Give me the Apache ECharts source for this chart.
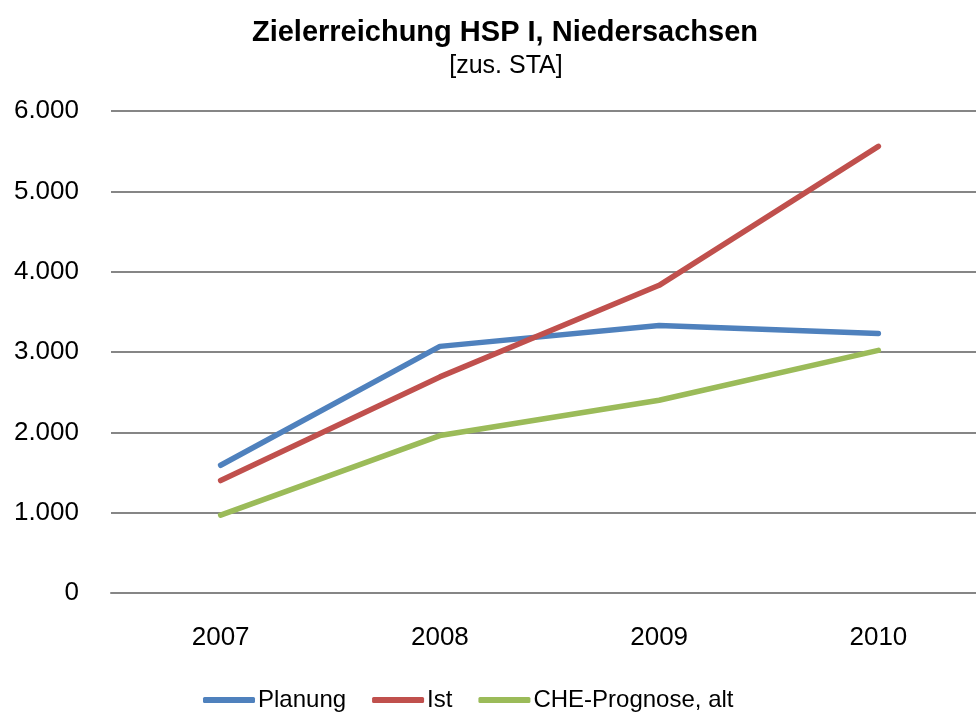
<!DOCTYPE html>
<html>
<head>
<meta charset="utf-8">
<script src="https://cdn.jsdelivr.net/npm/echarts@6/dist/echarts.min.js"></script>
<style>
  html, body { margin: 0; padding: 0; background: #fff; }
  #chart { width: 976px; height: 713px; }
</style>
</head>
<body>
<div id="chart"></div>
<script>
// Jahre und Werte (zusätzliche Studienanfänger, Niedersachsen)
var years = ['2007', '2008', '2009', '2010'];
var planung = [1590, 3070, 3330, 3230];
var ist = [1400, 2690, 3830, 5560];
var cheAlt = [970, 1960, 2400, 3020];
var yTicks = { min: 0, max: 6000, interval: 1000 };

var FONT = 'Liberation Sans, Arial, sans-serif';

function fmtThousands(v) {
  return String(v).replace(/\B(?=(\d{3})+(?!\d))/g, '.');
}

var chart = echarts.init(document.getElementById('chart'), null, { renderer: 'canvas' });

function lineSeries(name, data, color) {
  return {
    name: name,
    type: 'line',
    data: data,
    symbol: 'none',
    smooth: false,
    lineStyle: { color: color, width: 5.5, cap: 'round', join: 'round' },
    itemStyle: { color: color },
    emphasis: { disabled: true }
  };
}

chart.setOption({
  animation: false,
  backgroundColor: '#ffffff',
  title: [
    {
      text: 'Zielerreichung HSP I, Niedersachsen',
      left: 500, top: 13, textAlign: 'center',
      textStyle: { fontFamily: FONT, fontSize: 29, fontWeight: 'bold', color: '#000' }
    },
    {
      text: '[zus. STA]',
      left: 501, top: 49, textAlign: 'center',
      textStyle: { fontFamily: FONT, fontSize: 25, fontWeight: 'normal', color: '#000' }
    }
  ],
  legend: {
    bottom: -4,
    left: 198,
    width: 760,
    itemWidth: 52,
    itemHeight: 6,
    itemGap: 26,
    icon: 'roundRect',
    textStyle: { fontFamily: FONT, fontSize: 24, color: '#000', padding: [0, 0, 0, -2] },
    data: ['Planung', 'Ist', 'CHE-Prognose, alt']
  },
  // the plot area runs a little past the right edge of the canvas
  grid: {
    left: 111, width: 877, top: 111, bottom: 120,
    containLabel: false, outerBoundsMode: 'none'
  },
  xAxis: {
    type: 'category',
    data: years,
    boundaryGap: true,
    axisLine: { show: true, lineStyle: { color: '#868686', width: 2 } },
    axisTick: { show: false },
    axisLabel: { fontFamily: FONT, fontSize: 26, color: '#000', margin: 32 }
  },
  yAxis: {
    type: 'value',
    min: yTicks.min,
    max: yTicks.max,
    interval: yTicks.interval,
    axisLine: { show: false },
    axisTick: { show: false },
    splitLine: { lineStyle: { color: '#868686', width: 2 } },
    axisLabel: {
      fontFamily: FONT, fontSize: 26, color: '#000', margin: 32,
      formatter: fmtThousands
    }
  },
  series: [
    lineSeries('Planung', planung, '#4F81BD'),
    lineSeries('Ist', ist, '#C0504D'),
    lineSeries('CHE-Prognose, alt', cheAlt, '#9BBB59')
  ]
});
</script>
</body>
</html>
